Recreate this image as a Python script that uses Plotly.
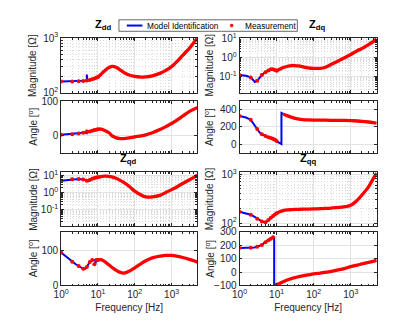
import plotly.graph_objects as go

# the page body adds an 8px margin, so the figure is 8px smaller than the window
# and every reference pixel position is shifted by that offset below
OFF = 8
W, H = 415 - OFF, 325 - OFF

# ---- data ------------------------------------------------------------------
FREQ_LOW = [1, 2, 3, 4, 5, 6, 7, 8, 9, 10]
FREQ_HIGH = [10, 12, 15, 20, 25, 30, 40, 50, 70, 100, 150, 200, 300, 500, 700,
             1000, 1500, 2000, 3000, 4000, 5000]
X_TICKS = [1, 10, 100, 1000]
X_TICK_TEXT = ["10<sup>0</sup>", "10<sup>1</sup>", "10<sup>2</sup>", "10<sup>3</sup>"]

# Zdd magnitude [Ohm]
ZDD_MAG_MODEL_F = [1, 2, 3, 4, 4.9, 5.0, 5.0, 5.1, 6, 7, 8, 9, 10]
ZDD_MAG_MODEL = [160, 161, 162, 164, 166, 166, 215, 168, 171, 176, 181, 187, 194]
ZDD_MAG_MEAS_LOW = [160, 161, 162, 164, 167, 171, 176, 181, 187, 194]
ZDD_MAG_MEAS_HIGH = [194, 215, 250, 290, 302, 295, 262, 236, 210, 198, 193, 194,
                     203, 228, 256, 300, 390, 480, 640, 820, 1000]
# Zdd angle [deg]
ZDD_ANG_MODEL_F = [1, 2, 3, 4, 4.9, 5.0, 5.0, 5.1, 6, 7, 8, 9, 10]
ZDD_ANG_MODEL = [2, 4, 6, 8, 10, 17, 4, 11, 12, 14, 16, 17, 18]
ZDD_ANG_MEAS_LOW = [2, 4, 6, 8, 10, 12, 14, 16, 17, 18]
ZDD_ANG_MEAS_HIGH = [18, 19, 15, 8, -2, -6, -9, -9, -7, -4, -1, 2, 8, 18, 26,
                     35, 47, 57, 70, 77, 81]

# Zdq magnitude [Ohm]
ZDQ_MAG_MODEL_F = [1, 1.5, 2, 2.3, 2.6, 3, 3.5, 4, 5, 6, 7, 8, 9, 10]
ZDQ_MAG_MODEL = [0.12, 0.11, 0.09, 0.07, 0.052, 0.06, 0.09, 0.12, 0.17, 0.21,
                 0.24, 0.24, 0.22, 0.2]
ZDQ_MAG_MEAS_LOW = [0.12, 0.09, 0.06, 0.12, 0.17, 0.21, 0.24, 0.24, 0.22, 0.2]
ZDQ_MAG_MEAS_HIGH = [0.2, 0.24, 0.3, 0.35, 0.38, 0.38, 0.36, 0.33, 0.29, 0.27,
                     0.27, 0.3, 0.44, 0.72, 1.0, 1.45, 2.3, 3.0, 4.8, 7.0, 9.5]
# Zdq angle [deg]
ZDQ_ANG_MODEL_F = [1, 1.5, 2, 2.5, 3, 3.5, 4, 5, 6, 7, 8, 9, 10, 11, 12, 13.5,
                   13.5, 15]
ZDQ_ANG_MODEL = [327, 310, 285, 225, 175, 135, 115, 95, 80, 70, 61, 50, 36, 22,
                 8, 0, 363, 352]
ZDQ_ANG_MEAS_LOW = [327, 285, 175, 115, 95, 80, 70, 61, 50, 36]
ZDQ_ANG_MEAS_HIGH = [None, None, 352, 330, 315, 303, 292, 287, 283, 281, 280,
                     279, 278, 277, 276, 274, 270, 266, 258, 251, 245]

# Zqd magnitude [Ohm]
ZQD_MAG_MODEL_F = [1, 1.5, 2, 3, 4, 4.5, 5, 5.5, 6, 7, 8, 9, 10]
ZQD_MAG_MODEL = [4.8, 5.4, 5.8, 6.0, 5.7, 5.2, 4.7, 4.5, 5.2, 6.3, 6.9, 7.3, 7.5]
ZQD_MAG_MEAS_LOW = [4.8, 5.8, 6.0, 5.7, 4.7, 5.2, 6.3, 6.9, 7.3, 7.5]
ZQD_MAG_MEAS_HIGH = [7.5, 8.3, 8.8, 8.6, 7.8, 6.8, 5.0, 3.8, 2.3, 1.2, 0.7,
                     0.55, 0.55, 0.7, 1.0, 1.45, 2.3, 3.3, 5.3, 7.5, 10]
# Zqd angle [deg]
ZQD_ANG_MODEL_F = [1, 1.5, 2, 2.5, 3, 3.5, 4, 4.5, 5, 5.5, 6, 7, 8, 8.5, 8.5,
                   8.7, 9, 10]
ZQD_ANG_MODEL = [93, 78, 67, 60, 55, 50, 47, 47, 52, 60, 66, 72, 72, 72, 60,
                 72, 72, 72]
ZQD_ANG_MEAS_LOW = [93, 67, 55, 47, 52, 66, 72, 60, 72, 72]
ZQD_ANG_MEAS_HIGH = [72, 73, 68, 58, 50, 44, 37, 35, 40, 50, 62, 70, 78, 83,
                     85, 85, 82, 79, 74, 70, 66]

# Zqq magnitude [Ohm]
ZQQ_MAG_MODEL_F = [1, 1.5, 2, 2.5, 3, 3.5, 4, 4.5, 5, 5.5, 6, 7, 8, 9, 10]
ZQQ_MAG_MODEL = [170, 160, 148, 135, 122, 114, 108, 105, 104, 108, 115, 128,
                 140, 150, 158]
ZQQ_MAG_MEAS_LOW = [170, 148, 122, 108, 104, 115, 128, 140, 150, 158]
ZQQ_MAG_MEAS_HIGH = [158, 170, 180, 186, 188, 190, 191, 192, 193, 195, 197,
                     199, 203, 210, 218, 232, 295, 375, 550, 800, 1050]
# Zqq angle [deg]
ZQQ_ANG_MODEL_F = [1, 1.5, 2, 2.5, 3, 3.5, 4, 5, 6, 7, 8, 8.6, 8.6, 9, 10]
ZQQ_ANG_MODEL = [179, 179, 180, 183, 188, 195, 202, 222, 237, 248, 258, 262,
                 -100, -98, -95]
ZQQ_ANG_MEAS_LOW = [179, 180, 188, 202, 222, 237, 248, 258, -98, -95]
ZQQ_ANG_MEAS_HIGH = [-95, -85, -72, -58, -49, -43, -34, -29, -22, -14, -8, -3,
                     5, 17, 27, 40, 52, 60, 72, 80, 86]

TEXT = "#262626"
BLUE = "#0000ff"
RED = "#ff0000"

# minor tick positions 2..9 in every decade (axis furniture, not data)
MINOR_LOG = [m * 10.0 ** e for e in range(-2, 4) for m in range(2, 10)]


def px_x(x):
    return (x - OFF) / W


def px_y(y):
    return 1 - (y - OFF) / H


# panel layout in window pixels: x span per column, y span per row/kind
COL_X = {"L": (54, 193), "R": (236, 376)}
ROW_Y = {(1, "mag"): (32, 89), (1, "ang"): (98, 151.5),
         (2, "mag"): (172, 228), (2, "ang"): (234, 290)}

PANELS = [
    # idx, col, row, kind, model_f, model, meas_low, meas_high, y-axis settings
    (1, "L", 1, "mag", ZDD_MAG_MODEL_F, ZDD_MAG_MODEL, ZDD_MAG_MEAS_LOW, ZDD_MAG_MEAS_HIGH,
     dict(type="log", range=[2, 3], tickvals=[100, 1000],
          ticktext=["10<sup>2</sup>", "10<sup>3</sup>"])),
    (2, "L", 1, "ang", ZDD_ANG_MODEL_F, ZDD_ANG_MODEL, ZDD_ANG_MEAS_LOW, ZDD_ANG_MEAS_HIGH,
     dict(range=[-50, 100], tickvals=[0, 100])),
    (3, "R", 1, "mag", ZDQ_MAG_MODEL_F, ZDQ_MAG_MODEL, ZDQ_MAG_MEAS_LOW, ZDQ_MAG_MEAS_HIGH,
     dict(type="log", range=[-1.85, 1.03], tickvals=[0.1, 1, 10],
          ticktext=["10<sup>-1</sup>", "10<sup>0</sup>", "10<sup>1</sup>"])),
    (4, "R", 1, "ang", ZDQ_ANG_MODEL_F, ZDQ_ANG_MODEL, ZDQ_ANG_MEAS_LOW, ZDQ_ANG_MEAS_HIGH,
     dict(range=[-100, 500], tickvals=[0, 200, 400])),
    (5, "L", 2, "mag", ZQD_MAG_MODEL_F, ZQD_MAG_MODEL, ZQD_MAG_MEAS_LOW, ZQD_MAG_MEAS_HIGH,
     dict(type="log", range=[-1.95, 1.17], tickvals=[0.1, 1, 10],
          ticktext=["10<sup>-1</sup>", "10<sup>0</sup>", "10<sup>1</sup>"])),
    (6, "L", 2, "ang", ZQD_ANG_MODEL_F, ZQD_ANG_MODEL, ZQD_ANG_MEAS_LOW, ZQD_ANG_MEAS_HIGH,
     dict(range=[0, 152], tickvals=[0, 100])),
    (7, "R", 2, "mag", ZQQ_MAG_MODEL_F, ZQQ_MAG_MODEL, ZQQ_MAG_MEAS_LOW, ZQQ_MAG_MEAS_HIGH,
     dict(type="log", range=[1.94, 3.04], tickvals=[100, 1000],
          ticktext=["10<sup>2</sup>", "10<sup>3</sup>"])),
    (8, "R", 2, "ang", ZQQ_ANG_MODEL_F, ZQQ_ANG_MODEL, ZQQ_ANG_MEAS_LOW, ZQQ_ANG_MEAS_HIGH,
     dict(range=[-100, 300], tickvals=[-100, 0, 100, 200, 300])),
]


def minor_cfg(grid):
    # MATLAB's minor grid is a fine, faint dotted line
    return dict(tickmode="array", tickvals=MINOR_LOG, ticks="inside", ticklen=2,
                tickcolor=TEXT, showgrid=grid, gridcolor="#dcdcdc",
                griddash="1px,2px", gridwidth=0.7)


fig = go.Figure()
layout = {}

for idx, col, row, kind, mf, mv, low, high, ycfg in PANELS:
    sfx = "" if idx == 1 else str(idx)
    xa, ya = "x" + sfx, "y" + sfx

    # model identification: thin blue line
    fig.add_trace(go.Scatter(x=mf, y=mv, xaxis=xa, yaxis=ya, mode="lines",
                             line=dict(color=BLUE, width=2),
                             name="Model Identification"))
    # dense measurement points merge into a thick red line above 10 Hz
    fig.add_trace(go.Scatter(x=FREQ_HIGH, y=high, xaxis=xa, yaxis=ya, mode="lines",
                             line=dict(color=RED, width=3.3, shape="spline"),
                             connectgaps=False, name="Measurement"))
    fig.add_trace(go.Scatter(x=FREQ_LOW, y=low, xaxis=xa, yaxis=ya, mode="markers",
                             marker=dict(color=RED, size=4), name="Measurement"))

    x0, x1 = COL_X[col]
    y0, y1 = ROW_Y[(row, kind)]
    bottom = row == 2 and kind == "ang"

    xaxis = dict(
        type="log", range=[0, 3.7], domain=[px_x(x0), px_x(x1)], anchor=ya,
        tickvals=X_TICKS, ticktext=X_TICK_TEXT, showticklabels=bottom,
        ticks="inside", ticklen=3, tickcolor=TEXT, showline=True, linecolor=TEXT,
        linewidth=0.8, mirror="ticks", showgrid=True, gridcolor="#e3e3e3",
        gridwidth=0.8, zeroline=False, tickfont=dict(size=10, color=TEXT),
        minor=minor_cfg(kind == "mag"),
    )
    if bottom:
        xaxis["title"] = dict(text="Frequency [Hz]", font=dict(size=10, color=TEXT),
                              standoff=4)
    yaxis = dict(
        domain=[px_y(y1), px_y(y0)], anchor=xa, ticks="inside", ticklen=3,
        tickcolor=TEXT, showline=True, linecolor=TEXT, linewidth=0.8,
        mirror="ticks", showgrid=True, gridcolor="#e3e3e3", gridwidth=0.8,
        zeroline=False, tickfont=dict(size=10, color=TEXT),
    )
    if kind == "mag":
        yaxis["minor"] = minor_cfg(True)
    yaxis.update(ycfg)
    layout["xaxis" + sfx] = xaxis
    layout["yaxis" + sfx] = yaxis

fig.update_layout(**layout)

annotations = []
# panel titles
for text, x, y in [("Z<sub>dd</sub>", 97, 28), ("Z<sub>dq</sub>", 315, 28),
                   ("Z<sub>qd</sub>", 122, 168), ("Z<sub>qq</sub>", 306, 168)]:
    annotations.append(dict(text="<b>" + text + "</b>", x=px_x(x), y=px_y(y),
                            xref="paper", yref="paper", xanchor="center",
                            yanchor="bottom", showarrow=False,
                            font=dict(size=11, color="black")))
# y-axis titles
for (row, kind), (y0, y1) in ROW_Y.items():
    label = "Magnitude [Ω]" if kind == "mag" else "Angle [<sup>o</sup>]"
    for x in (25, 205):
        annotations.append(dict(text=label, x=px_x(x), y=px_y((y0 + y1) / 2),
                                xref="paper", yref="paper", textangle=-90,
                                xanchor="center", yanchor="middle", showarrow=False,
                                font=dict(size=10, color=TEXT)))

# compact MATLAB-style legend box (plotly's own legend is too wide here)
LEG_Y = 19
annotations += [
    dict(text="Model Identification", x=px_x(140), y=px_y(LEG_Y), xref="paper",
         yref="paper", xanchor="left", yanchor="middle", showarrow=False,
         font=dict(size=8.3, color="black")),
    dict(text="Measurement", x=px_x(240), y=px_y(LEG_Y), xref="paper",
         yref="paper", xanchor="left", yanchor="middle", showarrow=False,
         font=dict(size=8.3, color="black")),
]
shapes = [
    dict(type="rect", xref="paper", yref="paper", x0=px_x(113), x1=px_x(295),
         y0=px_y(25), y1=px_y(13), line=dict(color=TEXT, width=0.7),
         fillcolor="white", layer="above"),
    dict(type="line", xref="paper", yref="paper", x0=px_x(121), x1=px_x(137),
         y0=px_y(LEG_Y), y1=px_y(LEG_Y), line=dict(color=BLUE, width=2),
         layer="above"),
    dict(type="circle", xref="paper", yref="paper", x0=px_x(226.5), x1=px_x(229.5),
         y0=px_y(LEG_Y + 1.5), y1=px_y(LEG_Y - 1.5), line=dict(color=RED, width=0.5),
         fillcolor=RED, layer="above"),
]

fig.update_layout(
    width=W, height=H, margin=dict(l=0, r=0, t=0, b=0),
    paper_bgcolor="white", plot_bgcolor="white", showlegend=False,
    font=dict(family="Liberation Sans, Arial, sans-serif", color=TEXT),
    annotations=annotations, shapes=shapes,
)

fig.write_html("out.html")
